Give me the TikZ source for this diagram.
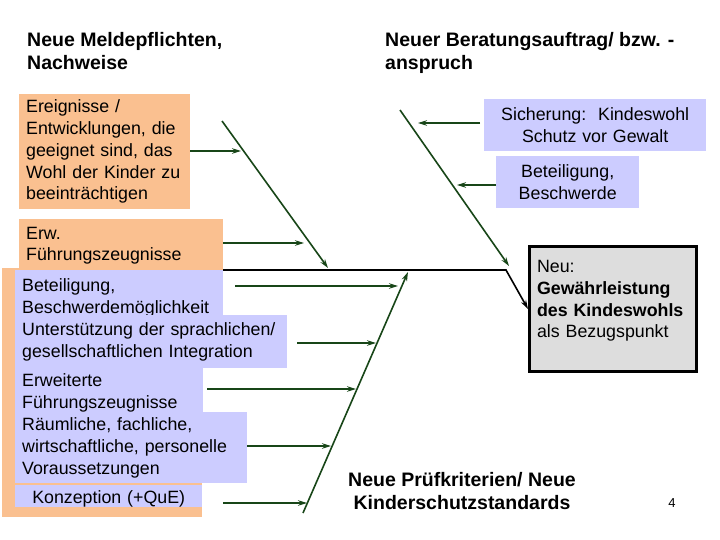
\documentclass[tikz,border=0pt]{standalone}
\usepackage{fontspec}
\setmainfont{Liberation Sans}
\usetikzlibrary{arrows.meta,positioning}
\definecolor{boxorange}{RGB}{250,192,144}
\definecolor{boxblue}{RGB}{204,204,255}
\definecolor{boxgray}{RGB}{221,221,221}
\definecolor{bonegreen}{RGB}{24,70,24}
\newcommand{\boxfont}{\fontsize{17.8}{21.7}\selectfont}
\newcommand{\headfont}{\fontsize{19.5}{23}\selectfont\bfseries}

\begin{document}
\begin{tikzpicture}[
  x=1pt, y=-1pt,
  field/.style={anchor=north west, inner xsep=7pt, inner ysep=0pt, align=left, font=\boxfont},
  obox/.style={field, fill=boxorange},
  bbox/.style={field, fill=boxblue},
  head/.style={anchor=north west, inner sep=0pt, align=left, font=\headfont},
  arr/.style={draw=bonegreen, line width=1.6pt, -{Stealth[length=9pt,width=5.5pt]}},
  spine/.style={draw=black, line width=1.6pt, -{Stealth[length=9pt,width=5.5pt]}}
]
\path[fill=white, use as bounding box] (0,0) rectangle (720,540);

\node[head] (meld) at (27,32) {Neue Meldepflichten,\\Nachweise};
\node[head] (berat) at (385,32) {Neuer Beratungsauftrag/ bzw. -\\anspruch};
\node[head, anchor=north, align=center] (pruef) at (462,472) {Neue Prüfkriterien/ Neue\\Kinderschutzstandards};
\node[inner sep=0pt, font=\fontsize{13}{15}\selectfont] (seite) at (672,503) {4};

\node[field, draw=black, line width=3pt, fill=boxgray, inner xsep=7.5pt, text width=152pt, minimum height=125pt] (neu) at (528,245)
  {Neu:\\ \textbf{Gewährleistung}\\ \textbf{des Kindeswohls}\\ als Bezugspunkt\vspace*{16pt}};

\coordinate (spL) at (15,270);
\coordinate (spR) at (506,270);
\draw[spine] (spL) -- (spR) -- (neu.west);

\node[obox, text width=157pt, minimum height=115pt] (ereig) at (19,94)
  {Ereignisse /\\ Entwicklungen, die\\ geeignet sind, das\\ Wohl der Kinder zu\\ beeinträchtigen};
\node[obox, text width=190pt, minimum height=53pt] (erw) at (19,219) {Erw.\\ Führungszeugnisse};
\node[fill=boxorange, anchor=north west, inner sep=0pt, minimum width=200pt, minimum height=249pt] (sockel) at (2,268) {};

\node[bbox, text width=194pt, minimum height=55pt] (beteil) at (15,270) {Beteiligung,\\ Beschwerdemöglichkeit};
\node[bbox, text width=258pt, minimum height=53pt] (unterst) at (15,315) {Unterstützung der sprachlichen/\\ gesellschaftlichen Integration};
\node[bbox, text width=174pt, minimum height=50pt] (erweit) at (15,368) {Erweiterte\\ Führungszeugnisse};
\node[bbox, text width=218pt, minimum height=71pt] (raeuml) at (15,412) {Räumliche, fachliche,\\ wirtschaftliche, personelle\\ Voraussetzungen};
\node[bbox, align=center, text width=173pt, minimum height=27pt] (konz) at (15,485) {Konzeption (+QuE)};
\node[fill=boxorange, anchor=north west, inner sep=0pt, minimum width=200pt, minimum height=10pt] (sockelfuss) at (2,507) {};

\node[bbox, align=center, text width=208pt, minimum height=52pt] (sicher) at (484,99) {Sicherung:\ \ Kindeswohl\\ Schutz vor Gewalt};
\node[bbox, align=center, text width=129pt, minimum height=52pt] (beschw) at (496,156) {Beteiligung,\\ Beschwerde};

\coordinate (ulA) at (222,121);
\coordinate (ulB) at (328,268);
\coordinate (urA) at (400,110);
\coordinate (urB) at (509,266);
\coordinate (llA) at (303,513);
\coordinate (llB) at (408,272);
\draw[arr] (ulA) -- (ulB);
\draw[arr] (urA) -- (urB);
\draw[arr] (llA) -- (llB);

\coordinate (t1) at (241,151);
\coordinate (t2) at (304,243);
\coordinate (t3) at (398,286);
\coordinate (t4) at (376,343);
\coordinate (t5) at (356,389);
\coordinate (t6) at (331,446);
\coordinate (t7) at (307,503);
\coordinate (t8) at (418,123);
\coordinate (t9) at (457,185);

\draw[arr] (ereig.east |- t1) -- (t1);
\draw[arr] (erw.east |- t2) -- (t2);
\draw[arr, shorten <=12pt] (beteil.east |- t3) -- (t3);
\draw[arr, shorten <=10pt] (unterst.east |- t4) -- (t4);
\draw[arr, shorten <=4pt] (erweit.east |- t5) -- (t5);
\draw[arr] (raeuml.east |- t6) -- (t6);
\draw[arr, shorten <=21pt] (konz.east |- t7) -- (t7);
\draw[arr, shorten <=4pt] (sicher.west |- t8) -- (t8);
\draw[arr] (beschw.west |- t9) -- (t9);
\end{tikzpicture}
\end{document}
